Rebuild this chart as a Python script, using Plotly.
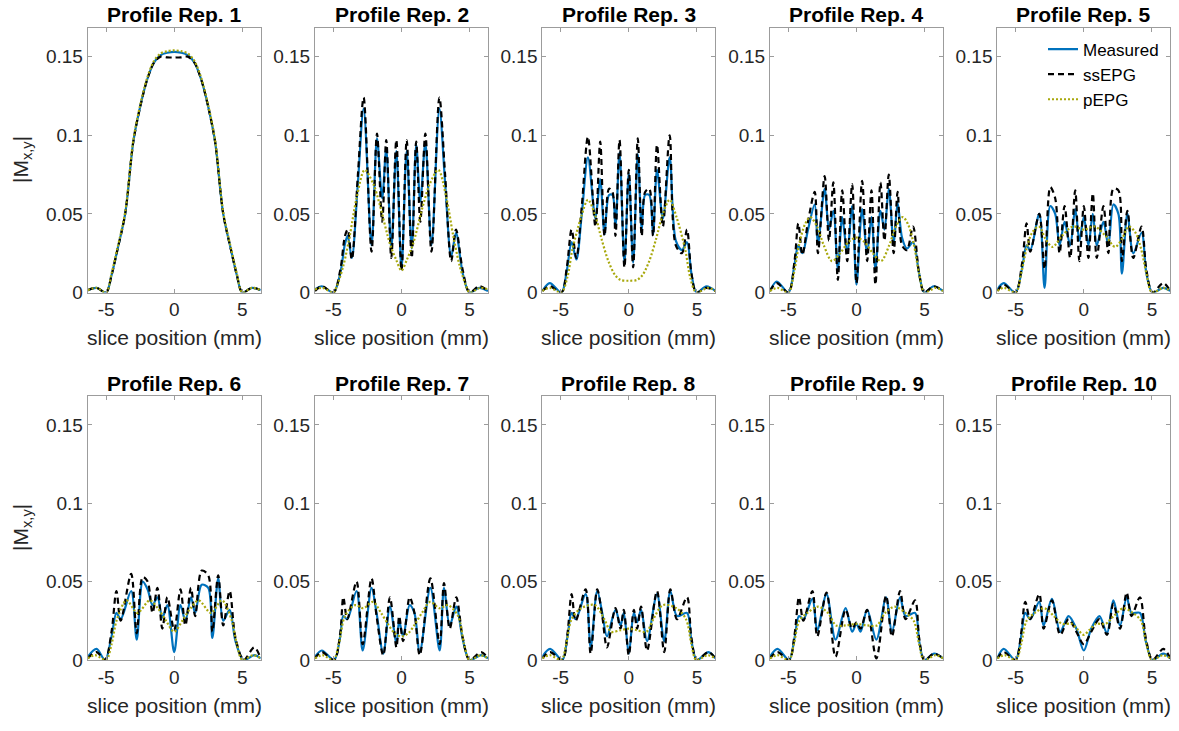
import plotly.graph_objects as go

# ---------------- slice profiles, |Mxy| versus slice position (mm) ----------------
# Panel 1
x1 = [-6.35, -5.7, -5.0, -4.6, -4.2, -3.6, -3.0, -2.5, -2.0, -1.5, -1.0, -0.5, 0.0,
      0.5, 1.0, 1.5, 2.0, 2.5, 3.0, 3.6, 4.2, 4.6, 5.0, 5.7, 6.35]
meas1 = [0.0015, 0.003, 0.0, 0.011, 0.026, 0.050, 0.096, 0.118, 0.135, 0.146, 0.151, 0.1525, 0.153,
         0.1525, 0.151, 0.146, 0.135, 0.118, 0.096, 0.050, 0.026, 0.011, 0.0, 0.003, 0.0015]
ss1 = [0.0015, 0.003, 0.0, 0.011, 0.026, 0.050, 0.096, 0.118, 0.135, 0.146, 0.150, 0.1495, 0.1495,
       0.1495, 0.150, 0.146, 0.135, 0.118, 0.096, 0.050, 0.026, 0.011, 0.0, 0.003, 0.0015]
xp1 = x1
p1 = [0.0015, 0.003, 0.0, 0.012, 0.027, 0.051, 0.097, 0.119, 0.136, 0.147, 0.152, 0.1535, 0.154,
      0.1535, 0.152, 0.147, 0.136, 0.119, 0.097, 0.051, 0.027, 0.012, 0.0, 0.003, 0.0015]

# Panel 2
x2 = [-6.35, -5.85, -5.0, -4.5, -4.15, -3.95, -3.65, -3.2, -2.78, -2.2, -1.8, -1.42, -1.12, -0.75, -0.38, 0.0,
      0.38, 0.75, 1.08, 1.38, 1.75, 2.2, 2.78, 3.2, 3.65, 4.0, 4.5, 5.0, 5.7, 6.35]
meas2 = [0.002, 0.004, 0.0, 0.012, 0.031, 0.036, 0.022, 0.07, 0.117, 0.03, 0.098, 0.06, 0.091, 0.028, 0.09, 0.015,
         0.09, 0.028, 0.094, 0.058, 0.095, 0.03, 0.117, 0.07, 0.023, 0.038, 0.012, 0.0, 0.003, 0.001]
ss2 = [0.001, 0.004, 0.0, 0.014, 0.036, 0.04, 0.021, 0.075, 0.124, 0.026, 0.101, 0.045, 0.097, 0.022, 0.097, 0.014,
       0.097, 0.022, 0.096, 0.045, 0.101, 0.026, 0.124, 0.075, 0.02, 0.04, 0.014, 0.0, 0.004, 0.001]
xp2 = [-6.35, -5.8, -5.0, -4.75, -4.27, -3.8, -3.3, -2.7, -2.07, -1.6, -0.85, -0.4, 0.0,
       0.4, 0.85, 1.6, 2.07, 2.7, 3.3, 3.8, 4.27, 4.75, 5.0, 5.8, 6.35]
p2 = [0.002, 0.003, 0.0, 0.004, 0.017, 0.036, 0.06, 0.078, 0.069, 0.056, 0.031, 0.021, 0.014,
      0.021, 0.031, 0.056, 0.069, 0.078, 0.06, 0.036, 0.017, 0.004, 0.0, 0.003, 0.002]

# Panel 3
x3 = [-6.35, -5.8, -4.95, -4.55, -4.2, -3.85, -3.45, -3.0, -2.45, -2.1, -1.78, -1.45, -1.2, -0.98, -0.68, -0.32, 0.0,
      0.32, 0.66, 0.95, 1.2, 1.5, 1.78, 2.07, 2.5, 3.0, 3.45, 3.9, 4.27, 4.6, 4.97, 5.7, 6.35]
meas3 = [0.001, 0.006, 0.0, 0.014, 0.032, 0.021, 0.05, 0.086, 0.047, 0.072, 0.037, 0.062, 0.062, 0.042, 0.089, 0.019, 0.076,
         0.019, 0.088, 0.04, 0.062, 0.062, 0.037, 0.078, 0.047, 0.086, 0.033, 0.027, 0.032, 0.012, 0.0, 0.004, 0.001]
ss3 = [0.001, 0.004, 0.0, 0.016, 0.04, 0.022, 0.055, 0.099, 0.042, 0.096, 0.036, 0.066, 0.064, 0.036, 0.097, 0.016, 0.078,
       0.016, 0.098, 0.036, 0.064, 0.066, 0.036, 0.094, 0.042, 0.1, 0.03, 0.025, 0.04, 0.012, 0.0, 0.003, 0.001]
xp3 = [-6.35, -5.8, -4.95, -4.5, -4.15, -3.5, -3.0, -2.5, -2.0, -1.5, -1.0, -0.6, 0.0,
       0.6, 1.0, 1.5, 2.0, 2.5, 3.0, 3.5, 4.15, 4.5, 4.95, 5.8, 6.35]
p3 = [0.001, 0.003, 0.0, 0.01, 0.027, 0.048, 0.059, 0.05, 0.034, 0.02, 0.011, 0.008, 0.0075,
      0.008, 0.011, 0.02, 0.034, 0.05, 0.059, 0.048, 0.027, 0.01, 0.0, 0.003, 0.001]

# Panel 4
x4 = [-6.35, -5.85, -5.0, -4.55, -4.27, -3.97, -3.56, -3.07, -2.83, -2.34, -2.02, -1.7, -1.37, -1.05, -0.68, -0.32, 0.0,
      0.41, 0.78, 1.1, 1.39, 1.76, 2.05, 2.37, 2.73, 3.02, 3.34, 3.7, 4.15, 4.6, 4.98, 5.66, 6.35]
meas4 = [0.001, 0.007, 0.0, 0.018, 0.03, 0.025, 0.04, 0.056, 0.031, 0.066, 0.04, 0.052, 0.015, 0.048, 0.025, 0.055, 0.005,
         0.053, 0.025, 0.048, 0.015, 0.052, 0.04, 0.066, 0.031, 0.057, 0.035, 0.028, 0.032, 0.012, 0.0, 0.004, 0.001]
ss4 = [0.001, 0.006, 0.0, 0.02, 0.044, 0.024, 0.045, 0.064, 0.025, 0.074, 0.033, 0.07, 0.008, 0.065, 0.02, 0.069, 0.006,
       0.071, 0.02, 0.065, 0.005, 0.07, 0.033, 0.075, 0.025, 0.064, 0.03, 0.027, 0.042, 0.012, 0.0, 0.004, 0.001]
xp4 = [-6.35, -5.8, -5.0, -4.6, -4.2, -3.8, -3.4, -2.9, -2.4, -1.8, -1.2, -0.6, 0.0,
       0.6, 1.2, 1.8, 2.4, 2.9, 3.4, 3.8, 4.2, 4.6, 5.0, 5.8, 6.35]
p4 = [0.001, 0.003, 0.0, 0.012, 0.031, 0.043, 0.048, 0.042, 0.03, 0.02, 0.025, 0.032, 0.035,
      0.032, 0.025, 0.02, 0.03, 0.042, 0.048, 0.043, 0.031, 0.012, 0.0, 0.003, 0.001]

# Panel 5
x5 = [-6.35, -5.88, -5.02, -4.54, -4.2, -3.93, -3.27, -2.88, -2.46, -2.1, -1.78, -1.41, -1.0, -0.63, -0.32, 0.0,
      0.34, 0.66, 0.95, 1.44, 1.8, 2.17, 2.54, 2.8, 3.2, 3.63, 4.24, 4.6, 5.05, 5.83, 6.35]
meas5 = [0.002, 0.006, 0.0, 0.015, 0.03, 0.027, 0.05, 0.003, 0.055, 0.05, 0.03, 0.045, 0.03, 0.053, 0.033, 0.048,
         0.03, 0.05, 0.03, 0.045, 0.03, 0.056, 0.05, 0.012, 0.05, 0.025, 0.038, 0.012, 0.0, 0.003, 0.001]
ss5 = [0.001, 0.005, 0.0, 0.018, 0.044, 0.026, 0.05, 0.015, 0.067, 0.06, 0.025, 0.055, 0.022, 0.065, 0.02, 0.055,
       0.022, 0.063, 0.022, 0.055, 0.025, 0.066, 0.065, 0.02, 0.052, 0.022, 0.042, 0.014, 0.0, 0.006, 0.001]
xp5 = [-6.35, -5.85, -5.0, -4.6, -4.2, -3.8, -3.3, -2.8, -2.3, -1.6, -0.8, 0.0,
       0.8, 1.6, 2.3, 2.8, 3.3, 3.8, 4.2, 4.6, 5.0, 5.85, 6.35]
p5 = [0.001, 0.003, 0.0, 0.012, 0.028, 0.038, 0.042, 0.034, 0.029, 0.036, 0.042, 0.04,
      0.042, 0.036, 0.029, 0.034, 0.042, 0.038, 0.028, 0.012, 0.0, 0.003, 0.001]

# Panel 6
x6 = [-6.35, -5.7, -5.08, -4.6, -4.24, -3.93, -3.16, -2.75, -2.31, -1.95, -1.59, -1.23, -0.87, -0.5, 0.0,
      0.46, 0.82, 1.23, 1.54, 2.02, 2.5, 2.8, 3.23, 3.6, 4.07, 4.5, 5.1, 5.88, 6.35]
meas6 = [0.002, 0.007, 0.0, 0.015, 0.03, 0.026, 0.044, 0.013, 0.05, 0.045, 0.035, 0.04, 0.027, 0.035, 0.005,
         0.035, 0.025, 0.04, 0.03, 0.048, 0.046, 0.014, 0.052, 0.025, 0.032, 0.012, 0.0, 0.003, 0.001]
ss6 = [0.001, 0.005, 0.0, 0.018, 0.044, 0.025, 0.055, 0.017, 0.053, 0.05, 0.03, 0.046, 0.02, 0.04, 0.019,
       0.045, 0.022, 0.046, 0.028, 0.057, 0.054, 0.018, 0.054, 0.022, 0.044, 0.014, 0.0, 0.008, 0.001]
xp6 = [-6.35, -5.8, -5.0, -4.6, -4.2, -3.5, -2.7, -1.8, -1.2, -0.6, 0.0,
       0.6, 1.2, 1.8, 2.7, 3.5, 4.2, 4.6, 5.0, 5.8, 6.35]
p6 = [0.001, 0.003, 0.0, 0.01, 0.026, 0.038, 0.03, 0.038, 0.033, 0.025, 0.018,
      0.025, 0.033, 0.038, 0.03, 0.038, 0.026, 0.01, 0.0, 0.003, 0.001]

# Panel 7
x7 = [-6.35, -5.85, -4.95, -4.5, -4.27, -3.98, -3.3, -2.85, -2.2, -1.83, -1.34, -0.85, -0.37, -0.17,
      0.12, 0.6, 0.95, 1.34, 2.12, 2.8, 3.12, 3.54, 4.02, 4.5, 5.0, 5.85, 6.35]
meas7 = [0.002, 0.006, 0.0, 0.015, 0.028, 0.026, 0.044, 0.006, 0.046, 0.03, 0.004, 0.034, 0.01, 0.025,
         0.015, 0.035, 0.03, 0.005, 0.046, 0.006, 0.046, 0.022, 0.034, 0.013, 0.0, 0.003, 0.001]
ss7 = [0.001, 0.005, 0.0, 0.017, 0.04, 0.026, 0.05, 0.01, 0.052, 0.028, 0.003, 0.04, 0.008, 0.028,
       0.012, 0.04, 0.03, 0.003, 0.052, 0.01, 0.049, 0.02, 0.04, 0.014, 0.0, 0.005, 0.001]
xp7 = [-6.35, -5.8, -5.0, -4.6, -4.15, -3.4, -2.8, -2.1, -1.5, -1.0, -0.5, 0.0,
       0.5, 1.0, 1.5, 2.1, 2.8, 3.4, 4.15, 4.6, 5.0, 5.8, 6.35]
p7 = [0.001, 0.003, 0.0, 0.01, 0.028, 0.035, 0.033, 0.037, 0.03, 0.023, 0.017, 0.015,
      0.017, 0.023, 0.03, 0.037, 0.033, 0.035, 0.028, 0.01, 0.0, 0.003, 0.001]

# Panel 8
x8 = [-6.35, -5.78, -4.88, -4.5, -4.2, -3.9, -3.17, -2.8, -2.32, -1.95, -1.6, -0.98, -0.61, -0.37, 0.0,
      0.37, 0.61, 0.9, 1.34, 2.07, 2.6, 3.05, 3.54, 4.27, 4.6, 5.0, 5.85, 6.35]
meas8 = [0.002, 0.007, 0.0, 0.015, 0.03, 0.026, 0.042, 0.008, 0.044, 0.03, 0.015, 0.032, 0.022, 0.03, 0.004,
         0.03, 0.024, 0.032, 0.012, 0.042, 0.012, 0.044, 0.028, 0.03, 0.012, 0.0, 0.005, 0.001]
ss8 = [0.001, 0.005, 0.0, 0.017, 0.042, 0.025, 0.045, 0.004, 0.045, 0.028, 0.008, 0.033, 0.02, 0.032, 0.003,
       0.032, 0.02, 0.034, 0.006, 0.044, 0.005, 0.045, 0.026, 0.04, 0.014, 0.0, 0.005, 0.001]
xp8 = [-6.35, -5.8, -4.95, -4.6, -4.2, -3.5, -2.5, -1.8, -1.3, -0.6, 0.0,
       0.6, 1.3, 1.8, 2.5, 3.5, 4.2, 4.6, 4.95, 5.8, 6.35]
p8 = [0.001, 0.003, 0.0, 0.01, 0.026, 0.033, 0.035, 0.026, 0.018, 0.019, 0.02,
      0.019, 0.018, 0.026, 0.035, 0.033, 0.026, 0.01, 0.0, 0.003, 0.001]

# Panel 9
x9 = [-6.35, -5.8, -4.95, -4.55, -4.22, -3.9, -3.24, -2.88, -2.2, -1.54, -0.8, -0.32, 0.0,
      0.3, 0.78, 1.46, 2.17, 2.6, 3.2, 3.6, 4.3, 4.6, 4.98, 5.7, 6.35]
meas9 = [0.002, 0.007, 0.0, 0.014, 0.028, 0.026, 0.039, 0.019, 0.042, 0.013, 0.033, 0.018, 0.023,
         0.018, 0.032, 0.013, 0.04, 0.018, 0.04, 0.028, 0.03, 0.012, 0.0, 0.004, 0.001]
ss9 = [0.001, 0.005, 0.0, 0.016, 0.04, 0.025, 0.044, 0.015, 0.043, 0.002, 0.032, 0.02, 0.024,
       0.02, 0.032, 0.001, 0.041, 0.015, 0.044, 0.026, 0.038, 0.014, 0.0, 0.004, 0.001]
xp9 = [-6.35, -5.8, -4.95, -4.6, -4.2, -3.6, -2.8, -2.1, -1.5, -0.8, 0.0,
       0.8, 1.5, 2.1, 2.8, 3.6, 4.2, 4.6, 4.95, 5.8, 6.35]
p9 = [0.001, 0.003, 0.0, 0.01, 0.025, 0.03, 0.034, 0.03, 0.022, 0.022, 0.023,
      0.022, 0.022, 0.03, 0.034, 0.03, 0.025, 0.01, 0.0, 0.003, 0.001]

# Panel 10
x10 = [-6.35, -5.88, -5.02, -4.6, -4.3, -3.93, -3.27, -2.95, -2.34, -1.73, -1.12, -0.55, 0.0,
       0.55, 1.15, 1.7, 2.17, 2.66, 3.15, 3.5, 4.12, 4.55, 5.05, 5.83, 6.35]
meas10 = [0.001, 0.007, 0.0, 0.015, 0.03, 0.026, 0.037, 0.022, 0.039, 0.018, 0.028, 0.02, 0.006,
          0.02, 0.028, 0.017, 0.038, 0.022, 0.04, 0.03, 0.03, 0.012, 0.0, 0.004, 0.001]
ss10 = [0.001, 0.005, 0.0, 0.017, 0.037, 0.026, 0.042, 0.02, 0.038, 0.016, 0.026, 0.018, 0.01,
        0.018, 0.026, 0.016, 0.036, 0.02, 0.043, 0.028, 0.04, 0.014, 0.0, 0.007, 0.001]
xp10 = [-6.35, -5.8, -5.0, -4.6, -4.2, -3.6, -2.9, -2.2, -1.6, -0.9, -0.4, 0.0,
        0.4, 0.9, 1.6, 2.2, 2.9, 3.6, 4.2, 4.6, 5.0, 5.8, 6.35]
p10 = [0.001, 0.003, 0.0, 0.01, 0.025, 0.03, 0.033, 0.028, 0.023, 0.023, 0.019, 0.016,
       0.019, 0.023, 0.023, 0.028, 0.033, 0.03, 0.025, 0.01, 0.0, 0.003, 0.001]

titles = ["Profile Rep. %d" % k for k in range(1, 11)]
x_ticks = [-5, 0, 5]
x_ticktext = ["-5", "0", "5"]
y_ticks = [0, 0.05, 0.1, 0.15]
y_ticktext = ["0", "0.05", "0.1", "0.15"]
series_names = ["Measured", "ssEPG", "pEPG"]

panels = [
    (x1, meas1, ss1, xp1, p1), (x2, meas2, ss2, xp2, p2), (x3, meas3, ss3, xp3, p3),
    (x4, meas4, ss4, xp4, p4), (x5, meas5, ss5, xp5, p5), (x6, meas6, ss6, xp6, p6),
    (x7, meas7, ss7, xp7, p7), (x8, meas8, ss8, xp8, p8), (x9, meas9, ss9, xp9, p9),
    (x10, meas10, ss10, xp10, p10),
]

# ---------------- layout geometry (pixels) ----------------
W, H = 1179, 731
col_left = [87.7, 315.0, 542.3, 770.0, 997.3]
pw = 173.0
row_box = [(28.0, 297.0), (402.0, 670.0)]
FONT = "Liberation Sans, Arial, Helvetica, sans-serif"
BLUE = "#0072BD"
OLIVE = "#A8A80C"
FRAME = "#9c9c9c"
TXT = "#262626"

fig = go.Figure()
layout = dict(
    width=W, height=H, margin=dict(l=0, r=0, t=0, b=0),
    paper_bgcolor="white", plot_bgcolor="white",
    font=dict(family=FONT, size=19, color=TXT),
    showlegend=True,
)
annotations = []

for i, (xm, ym, ys, xp, yp) in enumerate(panels):
    r, c = divmod(i, 5)
    sfx = "" if i == 0 else str(i + 1)
    xa, ya = "x" + sfx, "y" + sfx
    show = (i == 4)
    fig.add_trace(go.Scatter(x=xm, y=ym, xaxis=xa, yaxis=ya, mode="lines", name=series_names[0],
                             showlegend=show, legendgroup="m",
                             line=dict(color=BLUE, width=2.2, shape="spline", smoothing=0.9)))
    fig.add_trace(go.Scatter(x=xm, y=ys, xaxis=xa, yaxis=ya, mode="lines", name=series_names[1],
                             showlegend=show, legendgroup="s",
                             line=dict(color="black", width=2.2, dash="6px,4px", shape="spline", smoothing=0.9)))
    fig.add_trace(go.Scatter(x=xp, y=yp, xaxis=xa, yaxis=ya, mode="lines", name=series_names[2],
                             showlegend=show, legendgroup="p",
                             line=dict(color=OLIVE, width=2.2, dash="2px,2px", shape="spline", smoothing=0.9)))

    left = col_left[c]
    top, bot = row_box[r]
    layout["xaxis" + sfx] = dict(
        domain=[left / W, (left + pw) / W], anchor=ya, range=[-6.35, 6.35],
        tickvals=x_ticks, ticktext=x_ticktext, ticks="inside", ticklen=4, tickcolor=FRAME,
        showline=True, linecolor=FRAME, linewidth=1, mirror="ticks",
        showgrid=False, zeroline=False, tickfont=dict(size=19, color=TXT, family=FONT),
    )
    layout["yaxis" + sfx] = dict(
        domain=[1 - bot / H, 1 - top / H], anchor=xa, range=[0, 0.1685],
        tickvals=y_ticks, ticktext=y_ticktext, ticks="inside", ticklen=4, tickcolor=FRAME,
        showline=True, linecolor=FRAME, linewidth=1, mirror="ticks",
        showgrid=False, zeroline=False, tickfont=dict(size=19, color=TXT, family=FONT),
    )
    cx = (left + pw / 2) / W
    annotations.append(dict(text="<b>%s</b>" % titles[i], x=cx, y=1 - (top - 13) / H,
                            xref="paper", yref="paper", xanchor="center", yanchor="middle",
                            showarrow=False, font=dict(size=21, color="black", family=FONT)))
    annotations.append(dict(text="slice position (mm)", x=cx, y=1 - (bot + 46) / H,
                            xref="paper", yref="paper", xanchor="center", yanchor="middle",
                            showarrow=False, font=dict(size=21, color=TXT, family=FONT)))

for r in range(2):
    top, bot = row_box[r]
    annotations.append(dict(text="|M<sub>x,y</sub>|", x=22 / W, y=1 - (top + bot) / 2 / H,
                            xref="paper", yref="paper", xanchor="center", yanchor="middle",
                            textangle=-90, showarrow=False,
                            font=dict(size=21, color=TXT, family=FONT)))

layout["annotations"] = annotations
layout["legend"] = dict(
    x=1043 / W, y=1 - 32 / H, xanchor="left", yanchor="top",
    bgcolor="rgba(0,0,0,0)", borderwidth=0, font=dict(size=17, color="black", family=FONT),
    itemwidth=30, tracegroupgap=0, traceorder="normal",
)
fig.update_layout(**layout)
fig.write_html("out.html")
